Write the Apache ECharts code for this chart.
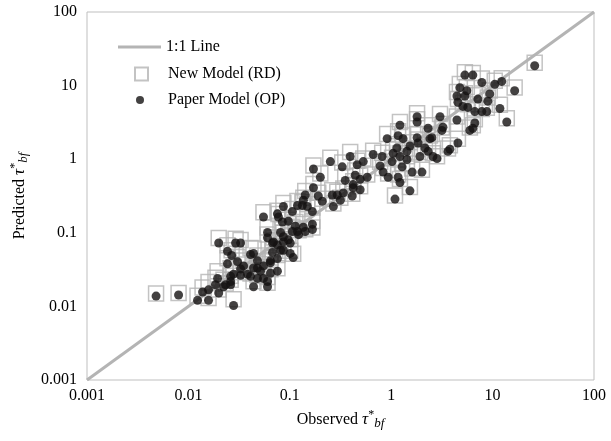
<!DOCTYPE html>
<html>
<head>
<meta charset="utf-8">
<script src="https://cdn.jsdelivr.net/npm/echarts@6/dist/echarts.min.js"></script>
<style>
  html, body { margin: 0; padding: 0; background: #fff; }
  #chart { width: 611px; height: 441px; }
</style>
</head>
<body>
<div id="chart"></div>
<script>
// observed tau*_bf (shared by both models)
const observed = [
  0.0048, 0.0080, 0.0123, 0.0138, 0.0158, 0.0158, 0.0199, 0.0222, 0.0194, 0.0185,
  0.0261, 0.0261, 0.0279, 0.0199, 0.0292, 0.0327, 0.0243, 0.0267, 0.0243, 0.0305,
  0.035, 0.041, 0.0439, 0.0514, 0.055, 0.0327, 0.0383, 0.0279, 0.0327, 0.041,
  0.048, 0.055, 0.0603, 0.0439, 0.0261, 0.0644, 0.0755, 0.0755, 0.0644, 0.0603,
  0.0233, 0.055, 0.0755, 0.0603, 0.069, 0.0865, 0.101, 0.119, 0.108, 0.081,
  0.0773, 0.0845, 0.0968, 0.1135, 0.136, 0.167, 0.167, 0.142, 0.122, 0.106,
  0.0603, 0.081, 0.0968, 0.0865, 0.0755, 0.0675, 0.0675, 0.0865, 0.101, 0.0439,
  0.048, 0.0644, 0.048, 0.0865, 0.106, 0.119, 0.133, 0.149, 0.167, 0.269,
  0.142, 0.136, 0.191, 0.209, 0.171, 0.2, 0.171, 0.352, 0.422, 0.294,
  0.262, 0.315, 0.251, 0.329, 0.462, 0.53, 0.442, 0.494, 0.58, 0.422,
  0.337, 0.413, 0.394, 0.664, 0.778, 1.80, 1.80, 3.03, 1.22, 2.31,
  3.16, 0.912, 1.17, 1.31, 1.80, 1.84, 2.41, 1.53, 1.14, 1.43,
  2.15, 2.31, 2.58, 2.83, 3.63, 1.92, 1.43, 1.045, 1.22, 1.02,
  1.28, 1.61, 2.01, 0.832, 0.933, 1.17, 1.22, 0.815, 0.494, 1.53,
  1.09, 5.33, 6.38, 7.83, 10.5, 12.3, 16.5, 4.75, 5.57, 4.45,
  5.33, 4.55, 9.38, 8.97, 7.16, 5.09, 5.70, 6.68, 7.83, 8.77,
  11.8, 13.8, 6.68, 6.38, 5.97, 4.45, 3.24, 2.52, 4.55, 3.79,
  26.0
];

// Paper Model (OP)
const predictedOP = [
  0.0138, 0.0143, 0.0121, 0.0157, 0.0168, 0.0121, 0.0152, 0.0185, 0.024, 0.0197,
  0.0218, 0.0256, 0.0103, 0.0728, 0.0728, 0.0728, 0.056, 0.0492, 0.0379, 0.0405,
  0.0355, 0.0508, 0.0333, 0.0301, 0.0355, 0.0322, 0.0274, 0.0274, 0.0265, 0.0256,
  0.024, 0.024, 0.0185, 0.0185, 0.0197, 0.0418, 0.0446, 0.0301, 0.0282, 0.0218,
  0.0197, 0.164, 0.181, 0.101, 0.0752, 0.0885, 0.0728, 0.104, 0.046, 0.058,
  0.164, 0.14, 0.144, 0.123, 0.119, 0.131, 0.111, 0.104, 0.0944, 0.104,
  0.0857, 0.101, 0.0802, 0.0752, 0.0681, 0.0728, 0.0542, 0.058, 0.0525, 0.0525,
  0.0418, 0.0392, 0.0333, 0.228, 0.194, 0.235, 0.235, 0.228, 0.194, 0.228,
  0.326, 0.277, 0.316, 0.268, 0.737, 0.568, 0.41, 0.515, 0.452, 0.326,
  0.326, 0.277, 0.927, 0.787, 0.84, 0.927, 0.605, 0.532, 0.568, 0.41,
  0.348, 0.316, 1.09, 1.16, 0.81, 3.77, 3.20, 3.77, 2.90, 2.63,
  2.46, 1.90, 2.09, 1.90, 1.96, 1.66, 1.90, 1.51, 1.42, 1.28,
  1.42, 1.28, 1.09, 1.02, 1.28, 1.09, 0.99, 1.20, 1.09, 0.927,
  0.787, 0.668, 0.668, 0.668, 0.568, 0.568, 0.482, 1.09, 0.384, 0.372,
  0.287, 13.9, 13.9, 11.0, 10.4, 11.4, 8.51, 9.38, 8.51, 7.23,
  7.23, 5.95, 7.71, 6.14, 6.55, 5.22, 5.05, 4.43, 4.43, 4.43,
  4.89, 3.20, 3.10, 2.63, 2.46, 3.41, 2.72, 1.96, 1.66, 1.37,
  18.6
];

// New Model (RD)
const predictedRD = [
  0.0150, 0.0152, 0.0140, 0.0180, 0.0215, 0.0130, 0.0170, 0.0230, 0.030, 0.0245,
  0.0260, 0.0330, 0.0125, 0.0850, 0.0830, 0.0800, 0.068, 0.058, 0.045, 0.047,
  0.042, 0.062, 0.036, 0.034, 0.041, 0.037, 0.031, 0.034, 0.029, 0.028,
  0.027, 0.026, 0.021, 0.022, 0.023, 0.046, 0.050, 0.033, 0.032, 0.025,
  0.0205, 0.190, 0.200, 0.118, 0.086, 0.100, 0.082, 0.115, 0.052, 0.066,
  0.180, 0.160, 0.150, 0.140, 0.132, 0.145, 0.118, 0.112, 0.108, 0.121,
  0.095, 0.112, 0.090, 0.082, 0.078, 0.080, 0.060, 0.064, 0.057, 0.061,
  0.049, 0.043, 0.038, 0.255, 0.210, 0.270, 0.260, 0.245, 0.220, 0.250,
  0.370, 0.300, 0.350, 0.290, 0.820, 0.640, 0.46, 0.58, 0.50, 0.36,
  0.38, 0.30, 1.05, 0.90, 0.95, 1.02, 0.70, 0.60, 0.62, 0.45,
  0.40, 0.34, 1.25, 1.30, 0.92, 4.2, 3.5, 4.1, 3.2, 2.9,
  2.7, 2.2, 2.4, 2.1, 2.2, 1.85, 2.1, 1.7, 1.6, 1.4,
  1.55, 1.45, 1.2, 1.1, 1.4, 1.25, 1.1, 1.35, 1.2, 1.05,
  0.88, 0.75, 0.72, 0.76, 0.64, 0.62, 0.54, 1.22, 0.43, 0.42,
  0.32, 15.2, 14.8, 12.5, 11.6, 12.6, 9.4, 10.5, 9.6, 8.2,
  7.9, 6.6, 8.6, 6.9, 7.4, 5.8, 5.6, 4.9, 4.8, 5.0,
  5.5, 3.6, 3.5, 2.9, 2.7, 3.8, 3.0, 2.2, 1.9, 1.55,
  20.5
];

const tickLabels = ['0.001', '0.01', '0.1', '1', '10', '100'];
const axisMin = 0.001;
const axisMax = 100;

const serif = 'Liberation Serif';
const chart = echarts.init(document.getElementById('chart'));

const richTau = {
  t: { fontFamily: serif, fontSize: 17, fontStyle: 'italic', color: '#000' },
  sup: { fontFamily: serif, fontSize: 12, color: '#000', padding: [0, 0, 9, 0] },
  sub: { fontFamily: serif, fontSize: 13, fontStyle: 'italic', color: '#000', padding: [8, 0, 0, 0] }
};

function tickFormatter(v) {
  const i = Math.round(Math.log10(v)) + 3;
  return tickLabels[i] || '';
}

const legendText = { fontFamily: serif, fontSize: 16, color: '#000' };

const option = {
  animation: false,
  grid: {
    left: 87, right: 17, top: 12, bottom: 61,
    show: true, borderColor: '#bfbfbf', borderWidth: 1
  },
  legend: [
    {
      data: [{ name: '1:1 Line', icon: 'rect' }],
      left: 118, top: 39, padding: 0,
      itemWidth: 43, itemHeight: 3,
      itemStyle: { color: '#b4b4b4' },
      textStyle: legendText
    },
    {
      data: ['New Model (RD)'],
      left: 134, top: 66, padding: 0,
      itemWidth: 13, itemHeight: 13,
      textStyle: Object.assign({ padding: [0, 0, 0, 15] }, legendText)
    },
    {
      data: ['Paper Model (OP)'],
      left: 136, top: 92, padding: 0,
      itemWidth: 8, itemHeight: 8,
      textStyle: Object.assign({ padding: [0, 0, 0, 19] }, legendText)
    }
  ],
  xAxis: {
    type: 'log', logBase: 10, min: axisMin, max: axisMax,
    name: 'Observed {t|τ}{sup|*}{sub|bf}',
    nameLocation: 'middle', nameGap: 26,
    nameTextStyle: { fontFamily: serif, fontSize: 16, color: '#000', rich: richTau },
    axisLine: { show: false }, axisTick: { show: false }, splitLine: { show: false },
    axisLabel: { formatter: tickFormatter, fontFamily: serif, fontSize: 16, color: '#000', margin: 8 }
  },
  yAxis: {
    type: 'log', logBase: 10, min: axisMin, max: axisMax,
    name: 'Predicted {t|τ}{sup|*}{sub|bf}',
    nameLocation: 'middle', nameRotate: 90, nameGap: 52,
    nameTextStyle: { fontFamily: serif, fontSize: 16, color: '#000', rich: richTau },
    axisLine: { show: false }, axisTick: { show: false }, splitLine: { show: false },
    axisLabel: { formatter: tickFormatter, fontFamily: serif, fontSize: 16, color: '#000', margin: 10 }
  },
  series: [
    {
      name: '1:1 Line',
      type: 'line',
      data: [[axisMin, axisMin], [axisMax, axisMax]],
      symbol: 'none',
      lineStyle: { color: '#b4b4b4', width: 3 },
      itemStyle: { color: '#b4b4b4' },
      z: 1
    },
    {
      name: 'New Model (RD)',
      type: 'scatter',
      data: observed.map((x, i) => [x, predictedRD[i]]),
      symbol: 'rect',
      symbolSize: 15,
      itemStyle: { color: 'rgba(0,0,0,0)', borderColor: '#b4b4b4', borderWidth: 1.5 },
      z: 2
    },
    {
      name: 'Paper Model (OP)',
      type: 'scatter',
      data: observed.map((x, i) => [x, predictedOP[i]]),
      symbol: 'circle',
      symbolSize: 9,
      itemStyle: { color: '#141212' },
      z: 3
    }
  ]
};

chart.setOption(option);
</script>
</body>
</html>
